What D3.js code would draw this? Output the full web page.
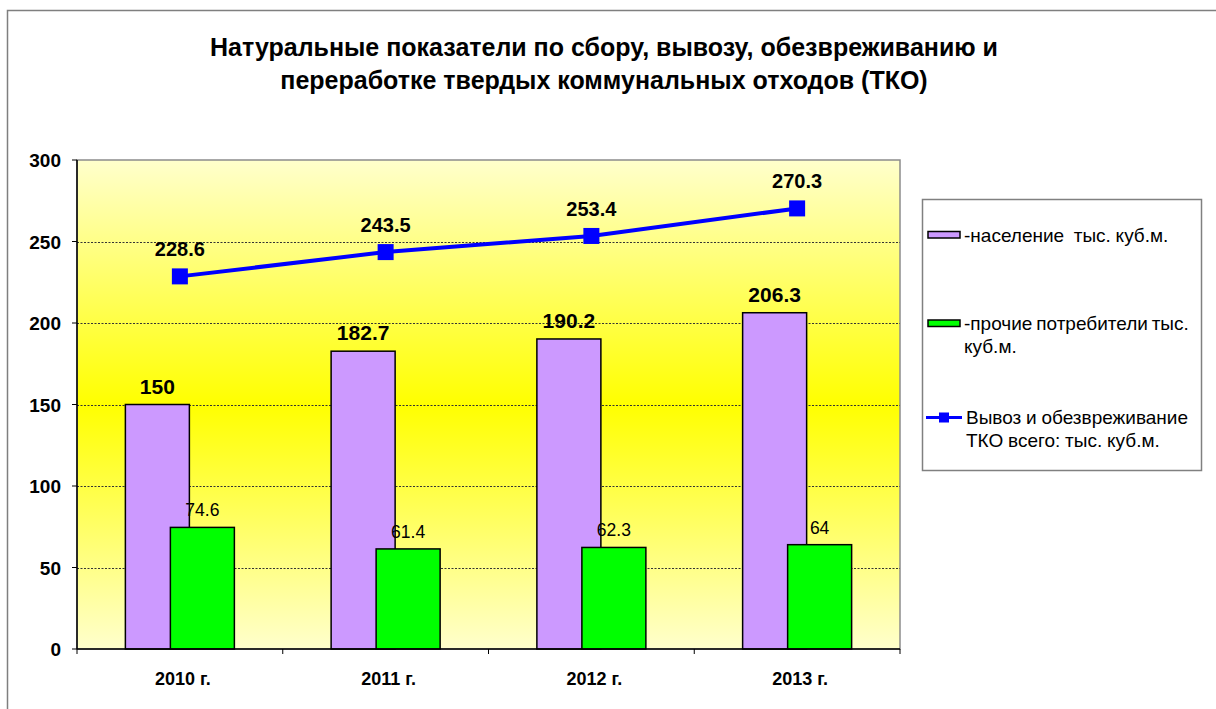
<!DOCTYPE html>
<html>
<head>
<meta charset="utf-8">
<script src="https://cdnjs.cloudflare.com/ajax/libs/d3/7.8.5/d3.min.js"></script>
<style>
  body { margin: 0; background: #fff; }
  text { font-family: "Liberation Sans", Arial, sans-serif; }
</style>
</head>
<body>
<div id="chart"></div>
<script>
// data
var years = ["2010 г.", "2011 г.", "2012 г.", "2013 г."];
var population = [150, 182.7, 190.2, 206.3];
var others = [74.6, 61.4, 62.3, 64];
var total = [228.6, 243.5, 253.4, 270.3];
var yTicks = [0, 50, 100, 150, 200, 250, 300];

var W = 1216, H = 709;
var plot = {left: 77, right: 900, top: 160, bottom: 649};

var svg = d3.select("#chart").append("svg")
    .attr("width", W)
    .attr("height", H);

// background gradient for plot area
var defs = svg.append("defs");
var grad = defs.append("linearGradient")
    .attr("id", "bg")
    .attr("x1", 0).attr("y1", 0).attr("x2", 0).attr("y2", 1);
grad.append("stop").attr("offset", "0%").attr("stop-color", "#FFFFCC");
grad.append("stop").attr("offset", "50%").attr("stop-color", "#FFFF00");
grad.append("stop").attr("offset", "100%").attr("stop-color", "#FFFFCC");

// outer chart border
svg.append("rect")
    .attr("x", 7.5).attr("y", 10.5)
    .attr("width", W + 10).attr("height", H + 10)
    .attr("fill", "none")
    .attr("stroke", "#7f7f7f")
    .attr("stroke-width", 1.5);

// title
var title = svg.append("text")
    .attr("text-anchor", "middle")
    .attr("font-size", 25)
    .attr("font-weight", "bold")
    .attr("fill", "#000");
title.append("tspan").attr("x", 604).attr("y", 56)
    .text("Натуральные показатели по сбору, вывозу, обезвреживанию и");
title.append("tspan").attr("x", 604).attr("y", 89)
    .text("переработке твердых коммунальных отходов (ТКО)");

var x = d3.scaleBand()
    .domain(years)
    .range([plot.left, plot.right]);

var y = d3.scaleLinear()
    .domain([0, 300])
    .range([plot.bottom, plot.top]);

// plot area
svg.append("rect")
    .attr("x", plot.left).attr("y", plot.top)
    .attr("width", plot.right - plot.left)
    .attr("height", plot.bottom - plot.top)
    .attr("fill", "url(#bg)")
    .attr("stroke", "#8c8c8c")
    .attr("stroke-width", 1.5);

// gridlines
svg.append("g")
    .selectAll("line")
    .data(yTicks.filter(function (d) { return d > 0 && d < 300; }))
    .enter().append("line")
    .attr("x1", plot.left).attr("x2", plot.right)
    .attr("y1", function (d) { return Math.round(y(d)) + 0.5; })
    .attr("y2", function (d) { return Math.round(y(d)) + 0.5; })
    .attr("stroke", "#333")
    .attr("stroke-width", 1)
    .attr("stroke-dasharray", "2,1.5");

// bars
var barW = 64, shift = 22.5;
var bars = svg.append("g");
bars.selectAll(".pop")
    .data(population)
    .enter().append("rect")
    .attr("class", "pop")
    .attr("x", function (d, i) { return x(years[i]) + x.bandwidth() / 2 - shift - barW / 2; })
    .attr("y", function (d) { return y(d); })
    .attr("width", barW)
    .attr("height", function (d) { return y(0) - y(d); })
    .attr("fill", "#CC99FF")
    .attr("stroke", "#000")
    .attr("stroke-width", 1.5);

bars.selectAll(".oth")
    .data(others)
    .enter().append("rect")
    .attr("class", "oth")
    .attr("x", function (d, i) { return x(years[i]) + x.bandwidth() / 2 + shift - barW / 2; })
    .attr("y", function (d) { return y(d); })
    .attr("width", barW)
    .attr("height", function (d) { return y(0) - y(d); })
    .attr("fill", "#00FF00")
    .attr("stroke", "#000")
    .attr("stroke-width", 1.5);

// bar labels
svg.append("g").selectAll("text")
    .data(population)
    .enter().append("text")
    .attr("x", function (d, i) { return x(years[i]) + x.bandwidth() / 2 - shift; })
    .attr("y", function (d) { return y(d) - 11; })
    .attr("text-anchor", "middle")
    .attr("font-size", 21)
    .attr("font-weight", "bold")
    .text(function (d) { return d; });

svg.append("g").selectAll("text")
    .data(others)
    .enter().append("text")
    .attr("x", function (d, i) { return x(years[i]) + x.bandwidth() / 2 + shift; })
    .attr("y", function (d) { return y(d) - 11; })
    .attr("text-anchor", "middle")
    .attr("font-size", 17.5)
    .text(function (d) { return d; });

// axes
svg.append("line")
    .attr("x1", plot.left).attr("x2", plot.left)
    .attr("y1", plot.top).attr("y2", plot.bottom)
    .attr("stroke", "#000").attr("stroke-width", 1.5);
svg.append("line")
    .attr("x1", plot.left).attr("x2", plot.right)
    .attr("y1", plot.bottom).attr("y2", plot.bottom)
    .attr("stroke", "#000").attr("stroke-width", 1.5);

var yAxis = svg.append("g");
yAxis.selectAll("line")
    .data(yTicks)
    .enter().append("line")
    .attr("x1", plot.left - 5).attr("x2", plot.left)
    .attr("y1", function (d) { return y(d); })
    .attr("y2", function (d) { return y(d); })
    .attr("stroke", "#000").attr("stroke-width", 1);
yAxis.selectAll("text")
    .data(yTicks)
    .enter().append("text")
    .attr("x", 61)
    .attr("y", function (d) { return y(d) + 7; })
    .attr("text-anchor", "end")
    .attr("font-size", 19)
    .attr("font-weight", "bold")
    .text(function (d) { return d; });

var xAxis = svg.append("g");
xAxis.selectAll("line")
    .data(years.concat(["end"]))
    .enter().append("line")
    .attr("x1", function (d, i) { return plot.left + i * x.bandwidth(); })
    .attr("x2", function (d, i) { return plot.left + i * x.bandwidth(); })
    .attr("y1", plot.bottom).attr("y2", plot.bottom + 5)
    .attr("stroke", "#000").attr("stroke-width", 1);
xAxis.selectAll("text")
    .data(years)
    .enter().append("text")
    .attr("x", function (d) { return x(d) + x.bandwidth() / 2 + 3; })
    .attr("y", 685)
    .attr("text-anchor", "middle")
    .attr("font-size", 18)
    .attr("font-weight", "bold")
    .text(function (d) { return d; });

// line series
var line = d3.line()
    .x(function (d, i) { return x(years[i]) + x.bandwidth() / 2; })
    .y(function (d) { return y(d); });

svg.append("path")
    .datum(total)
    .attr("d", line)
    .attr("fill", "none")
    .attr("stroke", "#0000FF")
    .attr("stroke-width", 4);

svg.append("g").selectAll("rect")
    .data(total)
    .enter().append("rect")
    .attr("x", function (d, i) { return x(years[i]) + x.bandwidth() / 2 - 8; })
    .attr("y", function (d) { return y(d) - 8; })
    .attr("width", 16).attr("height", 16)
    .attr("fill", "#0000FF");

svg.append("g").selectAll("text")
    .data(total)
    .enter().append("text")
    .attr("x", function (d, i) { return x(years[i]) + x.bandwidth() / 2; })
    .attr("y", function (d) { return y(d) - 20; })
    .attr("text-anchor", "middle")
    .attr("font-size", 20)
    .attr("font-weight", "bold")
    .text(function (d) { return d; });

// legend
var lg = svg.append("g");
lg.append("rect")
    .attr("x", 922.5).attr("y", 199.5)
    .attr("width", 279).attr("height", 271)
    .attr("fill", "#fff")
    .attr("stroke", "#808080")
    .attr("stroke-width", 1.5);

lg.append("rect")
    .attr("x", 928).attr("y", 231.5)
    .attr("width", 32).attr("height", 6.5)
    .attr("fill", "#CC99FF").attr("stroke", "#000").attr("stroke-width", 1.5);
lg.append("text")
    .attr("x", 964).attr("y", 242)
    .attr("font-size", 19)
    .attr("word-spacing", -0.5)
    .attr("xml:space", "preserve")
    .text("-население  тыс. куб.м.");

lg.append("rect")
    .attr("x", 928).attr("y", 320)
    .attr("width", 32).attr("height", 6.5)
    .attr("fill", "#00FF00").attr("stroke", "#000").attr("stroke-width", 1.5);
var t2 = lg.append("text").attr("font-size", 19).attr("word-spacing", -1.5);
t2.append("tspan").attr("x", 964).attr("y", 330).text("-прочие потребители тыс.");
t2.append("tspan").attr("x", 964).attr("y", 353).text("куб.м.");

lg.append("line")
    .attr("x1", 926).attr("x2", 962)
    .attr("y1", 417.5).attr("y2", 417.5)
    .attr("stroke", "#0000FF").attr("stroke-width", 3);
lg.append("rect")
    .attr("x", 939).attr("y", 412.5)
    .attr("width", 10).attr("height", 10)
    .attr("fill", "#0000FF");
var t3 = lg.append("text").attr("font-size", 19).attr("word-spacing", -0.5);
t3.append("tspan").attr("x", 966).attr("y", 424).text("Вывоз и обезвреживание");
t3.append("tspan").attr("x", 966).attr("y", 447).text("ТКО всего: тыс. куб.м.");
</script>
</body>
</html>
